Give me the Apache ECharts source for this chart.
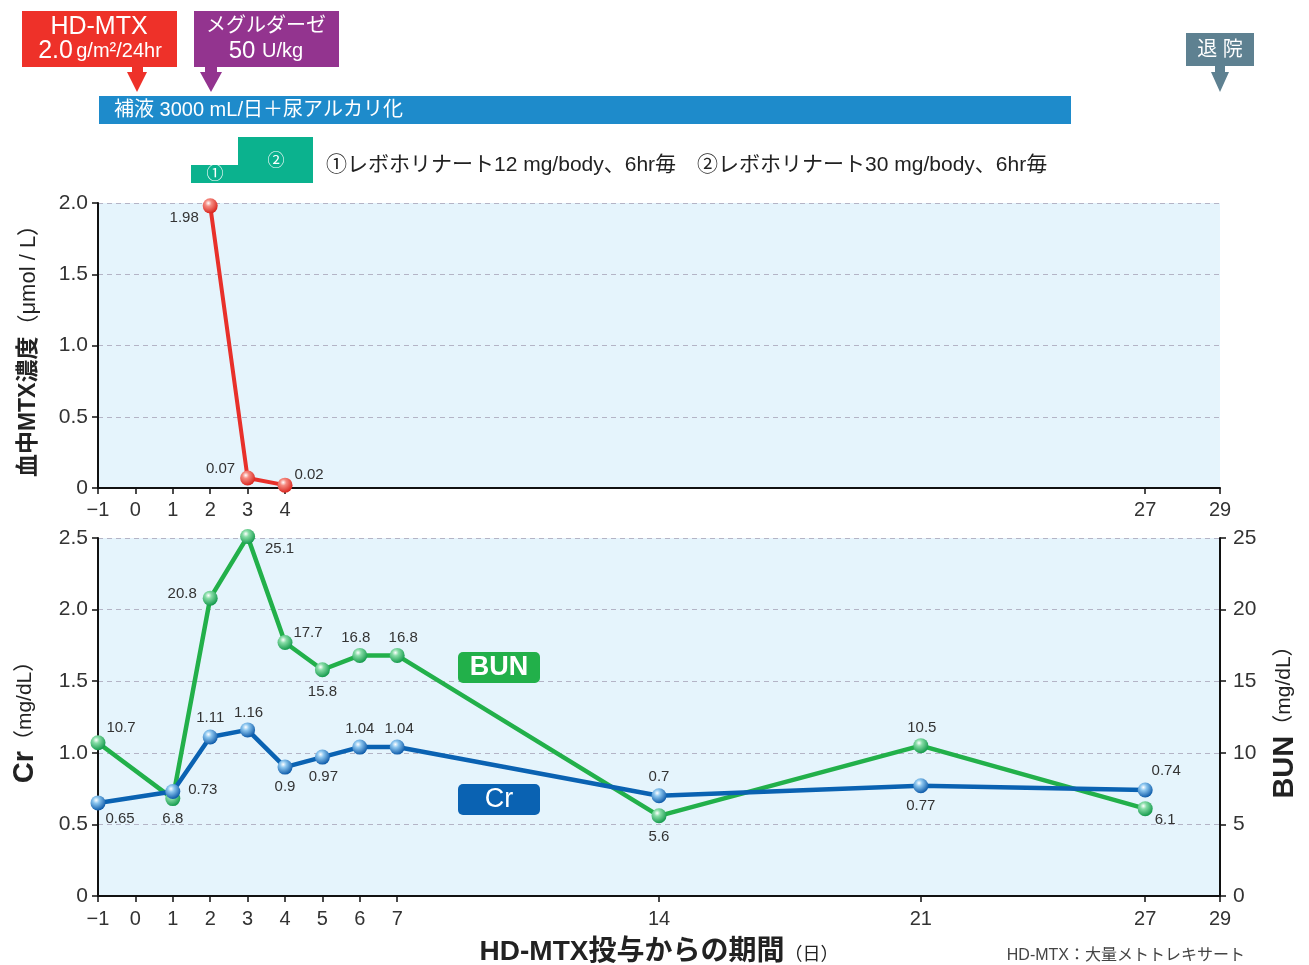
<!DOCTYPE html>
<html><head><meta charset="utf-8">
<script src="https://cdn.jsdelivr.net/npm/echarts@6/dist/echarts.min.js"></script>
<style>html,body{margin:0;padding:0;background:#fff}#c{width:1309px;height:965px}</style>
</head><body><div id="c"></div>
<script>
// ---- data ----
const mtxDays = [2, 3, 4];
const mtxValues = [1.98, 0.07, 0.02];
const labDays = [-1, 1, 2, 3, 4, 5, 6, 7, 14, 21, 27];
const crValues = [0.65, 0.73, 1.11, 1.16, 0.9, 0.97, 1.04, 1.04, 0.7, 0.77, 0.74];
const bunValues = [10.7, 6.8, 20.8, 25.1, 17.7, 15.8, 16.8, 16.8, 5.6, 10.5, 6.1];
const xTicksTop = [-1, 0, 1, 2, 3, 4, 27, 29];
const xTicksBottom = [-1, 0, 1, 2, 3, 4, 5, 6, 7, 14, 21, 27, 29];

// ---- label offsets (style) ----
const mtxLabelOffsets = [[-26, 12], [-27, -9], [24, -10]];
const crLabelOffsets = [[22, 16], [30, -2], [0, -19], [1, -17], [0, 20], [1, 20], [0, -18], [2, -18], [0, -19], [0, 20], [21, -19]];
const bunLabelOffsets = [[23, -15], [0, 20], [-28, -4], [32, 12], [23, -10], [0, 22], [-4, -18], [6, -18], [0, 21], [1, -18], [20, 11]];

const FF = "'Liberation Sans', 'Noto Sans CJK JP', sans-serif";
const fmtX = v => v < 0 ? '\u2212' + Math.abs(v) : String(v);
const fmtY = v => v === 0 ? '0' : v.toFixed(1);

function ball(light, dark) {
  return { type: 'radial', x: 0.38, y: 0.32, r: 0.7,
    colorStops: [{ offset: 0, color: '#ffffff' }, { offset: 0.3, color: light }, { offset: 1, color: dark }] };
}
function mkData(xs, ys, offs) {
  return xs.map((x, i) => ({ value: [x, ys[i]], label: { offset: offs[i] } }));
}
const labelBase = { show: true, position: 'inside', fontSize: 15, color: '#333', fontFamily: FF };

function xAxis(grid, ticks, margin) {
  return {
    gridIndex: grid, type: 'value', min: -1, max: 29, interval: 1,
    axisLine: { show: true, onZero: false, lineStyle: { color: '#111', width: 2 } },
    axisTick: { show: true, customValues: ticks, length: 6, lineStyle: { color: '#111', width: 1.5 } },
    axisLabel: { customValues: ticks, formatter: fmtX, fontSize: 20, color: '#333', margin: margin, fontFamily: FF },
    splitLine: { show: false }
  };
}
const splitDash = { show: true, lineStyle: { color: '#b4b4c6', type: [5, 4], width: 1 } };
const yLine = { show: true, onZero: false, lineStyle: { color: '#111', width: 2 } };
const yTick = { show: true, length: 6, lineStyle: { color: '#111', width: 1.5 } };

const option = {
  animation: false,
  backgroundColor: '#ffffff',
  grid: [
    { left: 98, right: 89, top: 203, height: 285, show: true, backgroundColor: '#e5f4fc', borderWidth: 0, outerBoundsMode: 'none', containLabel: false },
    { left: 98, right: 89, top: 538, height: 358, show: true, backgroundColor: '#e5f4fc', borderWidth: 0, outerBoundsMode: 'none', containLabel: false }
  ],
  xAxis: [
    xAxis(0, xTicksTop, 12),
    Object.assign(xAxis(1, xTicksBottom, 13), {
      name: '{b|HD-MTX投与からの期間}{s|（日）}', nameLocation: 'middle', nameGap: 42,
      nameTextStyle: { rich: {
        b: { fontSize: 28, fontWeight: 'bold', color: '#222', fontFamily: FF },
        s: { fontSize: 18, color: '#222', fontFamily: FF, padding: [6, 0, 0, 0] } } }
    })
  ],
  yAxis: [
    { gridIndex: 0, type: 'value', min: 0, max: 2, interval: 0.5,
      axisLine: yLine, axisTick: yTick,
      axisLabel: { formatter: fmtY, fontSize: 21, color: '#333', margin: 10, fontFamily: FF },
      splitLine: splitDash,
      name: '{b|血中MTX濃度}{s|（μmol / L）}', nameLocation: 'middle', nameRotate: 90, nameGap: 58,
      nameTextStyle: { rich: {
        b: { fontSize: 23, fontWeight: 'bold', color: '#222', fontFamily: FF },
        s: { fontSize: 22, color: '#222', fontFamily: FF } } } },
    { gridIndex: 1, type: 'value', min: 0, max: 2.5, interval: 0.5,
      axisLine: yLine, axisTick: yTick,
      axisLabel: { formatter: fmtY, fontSize: 21, color: '#333', margin: 10, fontFamily: FF },
      splitLine: splitDash,
      name: '{b|Cr}{s|（mg/dL）}', nameLocation: 'middle', nameRotate: 90, nameGap: 58,
      nameTextStyle: { rich: {
        b: { fontSize: 29, fontWeight: 'bold', color: '#222', fontFamily: FF },
        s: { fontSize: 21, color: '#222', fontFamily: FF, padding: [0, 0, 0, 0] } } } },
    { gridIndex: 1, type: 'value', position: 'right', min: 0, max: 25, interval: 5,
      axisLine: yLine, axisTick: yTick,
      axisLabel: { fontSize: 21, color: '#333', margin: 13, fontFamily: FF },
      splitLine: { show: false },
      name: '{b|BUN}{s|（mg/dL）}', nameLocation: 'middle', nameRotate: 90, nameGap: 50,
      nameTextStyle: { rich: {
        b: { fontSize: 29, fontWeight: 'bold', color: '#222', fontFamily: FF },
        s: { fontSize: 21, color: '#222', fontFamily: FF } } } }
  ],
  series: [
    { name: 'MTX', type: 'line', xAxisIndex: 0, yAxisIndex: 0, clip: false,
      data: mkData(mtxDays, mtxValues, mtxLabelOffsets),
      lineStyle: { color: '#e8302a', width: 4 }, symbol: 'circle', symbolSize: 15,
      itemStyle: { color: ball('#f58a80', '#d8231c') }, label: labelBase, z: 3 },
    { name: 'BUN', type: 'line', xAxisIndex: 1, yAxisIndex: 2, clip: false,
      data: mkData(labDays, bunValues, bunLabelOffsets),
      lineStyle: { color: '#22b04a', width: 4.5 }, symbol: 'circle', symbolSize: 15,
      itemStyle: { color: ball('#86dca6', '#12994a') }, label: labelBase, z: 3 },
    { name: 'Cr', type: 'line', xAxisIndex: 1, yAxisIndex: 1, clip: false,
      data: mkData(labDays, crValues, crLabelOffsets),
      lineStyle: { color: '#0a62b2', width: 4.5 }, symbol: 'circle', symbolSize: 15,
      itemStyle: { color: ball('#8cc6ef', '#0a58a8') }, label: labelBase, z: 4 }
  ],
  graphic: [
    // HD-MTX box
    { type: 'rect', shape: { x: 22, y: 11, width: 155, height: 56 }, style: { fill: '#ee3129' } },
    { type: 'text', style: { x: 99, y: 27, text: 'HD-MTX', fill: '#fff', font: '25px ' + FF, textAlign: 'center', textVerticalAlign: 'middle' } },
    { type: 'text', style: { x: 100, y: 51, text: '{a|2.0} {b|g/m²/24hr}', fill: '#fff', textAlign: 'center', textVerticalAlign: 'middle',
      rich: { a: { fontSize: 25, fontFamily: FF, fill: '#fff' }, b: { fontSize: 20, fontFamily: FF, fill: '#fff' } } } },
    { type: 'polygon', shape: { points: [[132, 67], [143, 67], [143, 72], [147, 72], [137, 92], [127, 72], [132, 72]] }, style: { fill: '#ee3129' } },
    // Meguru box
    { type: 'rect', shape: { x: 194, y: 11, width: 145, height: 56 }, style: { fill: '#93348f' } },
    { type: 'text', style: { x: 266, y: 26, text: 'メグルダーゼ', fill: '#fff', font: '20px ' + FF, textAlign: 'center', textVerticalAlign: 'middle' } },
    { type: 'text', style: { x: 266, y: 51, text: '{a|50}  {b|U/kg}', fill: '#fff', textAlign: 'center', textVerticalAlign: 'middle',
      rich: { a: { fontSize: 24, fontFamily: FF, fill: '#fff' }, b: { fontSize: 20, fontFamily: FF, fill: '#fff' } } } },
    { type: 'polygon', shape: { points: [[205, 67], [217, 67], [217, 72], [222, 72], [211, 92], [200, 72], [205, 72]] }, style: { fill: '#93348f' } },
    // infusion bar
    { type: 'rect', shape: { x: 99, y: 96, width: 972, height: 28 }, style: { fill: '#1e8bcb' } },
    { type: 'text', style: { x: 114, y: 110, text: '補液 3000 mL/日＋尿アルカリ化', fill: '#fff', font: '20px ' + FF, textAlign: 'left', textVerticalAlign: 'middle' } },
    // leucovorin steps
    { type: 'polygon', shape: { points: [[191, 165], [238, 165], [238, 137], [313, 137], [313, 183], [191, 183]] }, style: { fill: '#0bb28e' } },
    { type: 'text', style: { x: 215, y: 174, text: '①', fill: '#fff', font: '17px ' + FF, textAlign: 'center', textVerticalAlign: 'middle' } },
    { type: 'text', style: { x: 276, y: 161, text: '②', fill: '#fff', font: '17px ' + FF, textAlign: 'center', textVerticalAlign: 'middle' } },
    { type: 'text', style: { x: 326, y: 165, text: '①レボホリナート12 mg/body、6hr毎　②レボホリナート30 mg/body、6hr毎', fill: '#222', font: '21px ' + FF, textAlign: 'left', textVerticalAlign: 'middle' } },
    // discharge
    { type: 'rect', shape: { x: 1186, y: 33, width: 68, height: 33 }, style: { fill: '#5e8191' } },
    { type: 'text', style: { x: 1220, y: 50, text: '退 院', fill: '#fff', font: '20px ' + FF, textAlign: 'center', textVerticalAlign: 'middle' } },
    { type: 'polygon', shape: { points: [[1215, 66], [1225, 66], [1225, 72], [1229, 72], [1220, 92], [1211, 72], [1215, 72]] }, style: { fill: '#5e8191' } },
    // series tags
    { type: 'rect', shape: { x: 458, y: 652, width: 82, height: 31, r: 5 }, style: { fill: '#22b04a' }, z: 10 },
    { type: 'text', style: { x: 499, y: 668, text: 'BUN', fill: '#fff', font: 'bold 27px ' + FF, textAlign: 'center', textVerticalAlign: 'middle' }, z: 11 },
    { type: 'rect', shape: { x: 458, y: 784, width: 82, height: 31, r: 5 }, style: { fill: '#0a62b2' }, z: 10 },
    { type: 'text', style: { x: 499, y: 800, text: 'Cr', fill: '#fff', font: '27px ' + FF, textAlign: 'center', textVerticalAlign: 'middle' }, z: 11 },
    // footnote
    { type: 'text', style: { x: 1245, y: 956, text: 'HD-MTX：大量メトトレキサート', fill: '#444', font: '16px ' + FF, textAlign: 'right', textVerticalAlign: 'middle' } }
  ]
};
const chart = echarts.init(document.getElementById('c'), null, { renderer: 'canvas' });
chart.setOption(option);
</script></body></html>
